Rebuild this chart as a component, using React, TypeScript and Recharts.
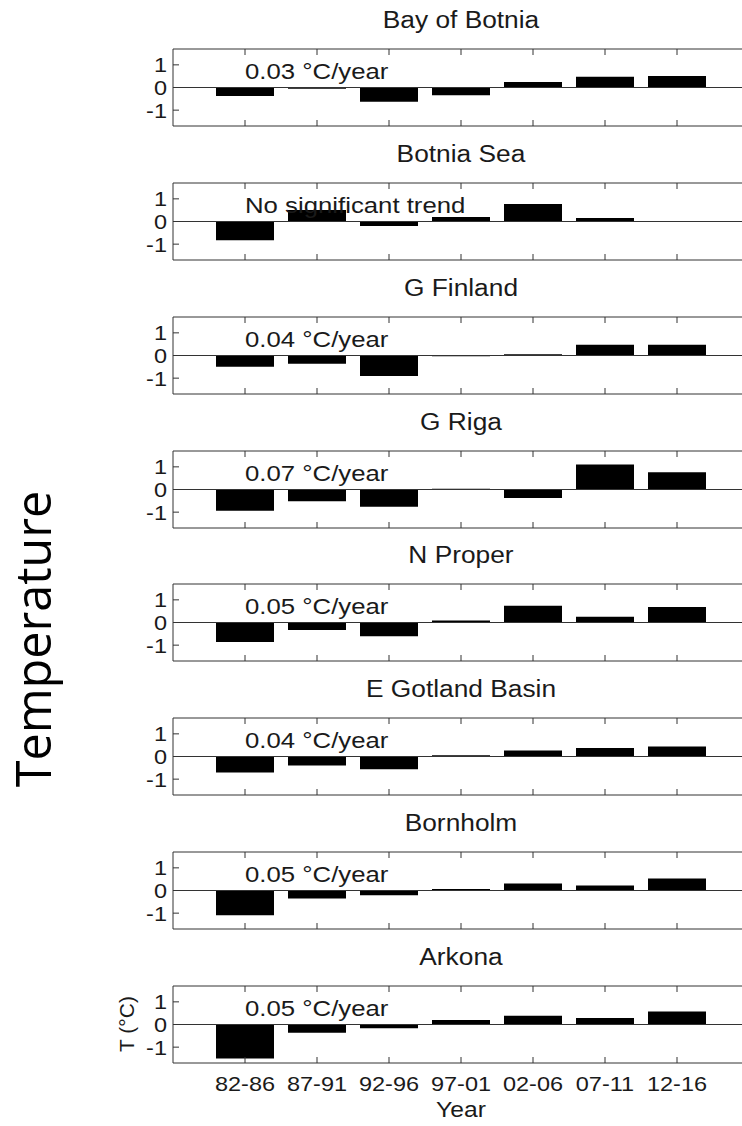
import React from 'react';
import { BarChart, Bar, XAxis, YAxis, ReferenceLine, ReferenceDot } from 'recharts';

const years = ['82-86', '87-91', '92-96', '97-01', '02-06', '07-11', '12-16'];
const basins = ['Bay of Botnia', 'Botnia Sea', 'G Finland', 'G Riga', 'N Proper', 'E Gotland Basin', 'Bornholm', 'Arkona'];
const trends = ['0.03 °C/year', 'No significant trend', '0.04 °C/year', '0.07 °C/year', '0.05 °C/year', '0.04 °C/year', '0.05 °C/year', '0.05 °C/year'];

// temperature anomaly per 5-year period, °C
const bayOfBotnia = [-0.37, -0.06, -0.63, -0.34, 0.24, 0.48, 0.51];
const botniaSea = [-0.83, 0.51, -0.2, 0.2, 0.77, 0.15, null];
const gFinland = [-0.5, -0.36, -0.9, -0.03, 0.05, 0.48, 0.48];
const gRiga = [-0.94, -0.52, -0.76, 0.03, -0.37, 1.1, 0.76];
const nProper = [-0.86, -0.33, -0.61, 0.09, 0.74, 0.25, 0.68];
const eGotland = [-0.71, -0.4, -0.56, 0.06, 0.26, 0.38, 0.44];
const bornholm = [-1.09, -0.35, -0.21, 0.07, 0.31, 0.22, 0.53];
const arkona = [-1.5, -0.36, -0.17, 0.2, 0.39, 0.29, 0.57];

const series = [bayOfBotnia, botniaSea, gFinland, gRiga, nProper, eGotland, bornholm, arkona];
const yTicks = [-1, 0, 1];
const xTicks = [1, 2, 3, 4, 5, 6, 7];

const PLOT_LEFT = 173;
const CHART_W = 780;
const PLOT_RIGHT = 749;
const PLOT_H = 77;
const TOP_AXIS_H = 1;
const M_TOP = 9;
const BOTTOM_AXIS_H = 30;
const M_BOTTOM = 10;
const AXIS = '#333';
const INK = '#1a1a1a';
const FONT = '"Liberation Sans", Arial, sans-serif';
const CENTER_X = (PLOT_LEFT + PLOT_RIGHT) / 2;

const boxTop = (i: number) => Math.round(49.3 + 133.77 * i);

const stretch = (origin: string): React.CSSProperties => ({
  transform: 'scaleX(1.12)',
  transformBox: 'fill-box',
  transformOrigin: origin,
});

const BottomTick = ({ x, y, payload, showLabel }: any) => (
  <g>
    <line x1={x} x2={x} y1={y} y2={y - 6} stroke={AXIS} />
    {showLabel && (
      <text x={x} y={y + 28} textAnchor="middle" fontSize={21} fontFamily={FONT} fill={INK} style={stretch('center')}>
        {years[payload.value - 1]}
      </text>
    )}
  </g>
);

const TopTick = ({ x, y }: any) => <line x1={x} x2={x} y1={y} y2={y + 6} stroke={AXIS} />;

const LeftTick = ({ x, y, payload }: any) => (
  <g>
    <line x1={x} x2={x + 6} y1={y} y2={y} stroke={AXIS} />
    <text x={x - 6} y={y} dy={7.5} textAnchor="end" fontSize={21} fontFamily={FONT} fill={INK} style={stretch('right center')}>
      {payload.value}
    </text>
  </g>
);

function Panel({ index }: { index: number }) {
  const data = series[index].map((t, i) => ({ x: i + 1, t }));
  const last = index === series.length - 1;
  const height = M_TOP + TOP_AXIS_H + PLOT_H + BOTTOM_AXIS_H + M_BOTTOM;

  return (
    <div style={{ position: 'absolute', left: 0, top: boxTop(index) - M_TOP - TOP_AXIS_H }}>
      <BarChart
        width={CHART_W}
        height={height}
        data={data}
        margin={{ top: M_TOP, right: CHART_W - PLOT_RIGHT, left: 0, bottom: M_BOTTOM }}
      >
        <XAxis
          dataKey="x"
          type="number"
          domain={[0, 8]}
          ticks={xTicks}
          interval={0}
          height={BOTTOM_AXIS_H}
          tickSize={0}
          tickMargin={0}
          tickLine={false}
          axisLine={{ stroke: AXIS }}
          tick={(p: any) => <BottomTick {...p} showLabel={last} />}
        />
        <XAxis
          xAxisId="top"
          orientation="top"
          dataKey="x"
          type="number"
          domain={[0, 8]}
          ticks={xTicks}
          interval={0}
          height={TOP_AXIS_H}
          tickSize={0}
          tickMargin={0}
          tickLine={false}
          axisLine={{ stroke: AXIS }}
          tick={(p: any) => <TopTick {...p} />}
        />
        <YAxis
          type="number"
          domain={[-1.7, 1.7]}
          ticks={yTicks}
          interval={0}
          width={PLOT_LEFT}
          tickSize={0}
          tickMargin={0}
          tickLine={false}
          axisLine={{ stroke: AXIS }}
          tick={(p: any) => <LeftTick {...p} />}
        />
        <Bar dataKey="t" fill="#000" barSize={58} isAnimationActive={false} />
        <ReferenceLine y={0} stroke={AXIS} />
        <ReferenceDot
          x={1}
          y={0.37}
          r={0}
          fill="none"
          stroke="none"
          label={(p: any) => (
            <text x={p.viewBox.x} y={p.viewBox.y} fontSize={23} fontFamily={FONT} fill={INK} style={stretch('left center')}>
              {trends[index]}
            </text>
          )}
        />
      </BarChart>
    </div>
  );
}

export default function App() {
  const lastTop = boxTop(series.length - 1);
  return (
    <div style={{ position: 'fixed', left: 0, top: 0, width: 742, height: 1126, overflow: 'hidden', background: '#fff' }}>
      <svg width={742} height={1126} style={{ position: 'absolute', left: 0, top: 0 }}>
        {basins.map((name, i) => (
          <text key={name} x={CENTER_X} y={boxTop(i) - 21} textAnchor="middle" fontSize={23.5} fontFamily={FONT} fill={INK} style={stretch('center')}>
            {name}
          </text>
        ))}
        <text x={51} y={639} transform="rotate(-90 51 639)" textAnchor="middle" fontSize={48.5} fontFamily='"Open Sans", "Noto Sans", sans-serif' fill="#000">
          Temperature
        </text>
        <text x={134} y={lastTop + 38} transform={`rotate(-90 134 ${lastTop + 38})`} textAnchor="middle" fontSize={21} fontFamily={FONT} fill={INK}>
          T (°C)
        </text>
        <text x={CENTER_X} y={1117} textAnchor="middle" fontSize={22} fontFamily={FONT} fill={INK} style={stretch('center')}>
          Year
        </text>
      </svg>
      {series.map((_, i) => (
        <Panel key={basins[i]} index={i} />
      ))}
    </div>
  );
}
